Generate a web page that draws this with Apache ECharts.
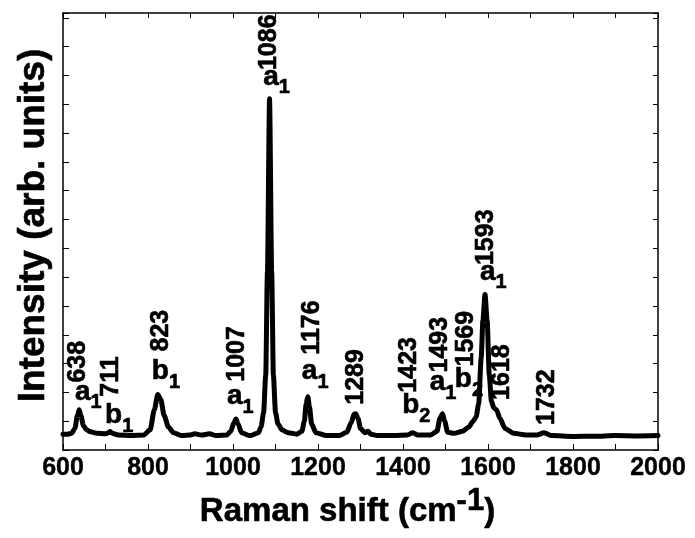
<!DOCTYPE html>
<html><head><meta charset="utf-8">
<script src="https://cdn.jsdelivr.net/npm/echarts@6/dist/echarts.min.js"></script>
<style>html,body{margin:0;padding:0;background:#fff}#c{width:695px;height:538px}</style>
</head><body><div id="c"></div>
<script>
// ---- data ----
const ramanShift = [600,610,620,628,634,638,642,648,655,665,680,700,707,711,716,730,760,790,805,815,823,830,838,848,860,880,900,910,925,945,960,985,995,1002,1007,1012,1020,1040,1060,1066,1072,1077,1081,1086,1091,1095,1100,1106,1115,1130,1150,1162,1168,1172,1176,1180,1185,1195,1220,1250,1268,1278,1285,1289,1294,1300,1310,1318,1324,1340,1380,1410,1423,1435,1465,1480,1487,1493,1498,1505,1520,1540,1555,1565,1572,1578,1584,1588,1593,1598,1603,1608,1614,1620,1628,1640,1660,1690,1715,1732,1750,1800,1850,1900,1950,2000];
const intensity  = [0.55,0.55,0.58,0.75,1.2,1.40,1.2,0.85,0.7,0.63,0.58,0.56,0.6,0.64,0.58,0.52,0.5,0.52,0.7,1.4,1.93,1.75,1.2,0.8,0.6,0.5,0.52,0.56,0.52,0.56,0.5,0.52,0.65,0.95,1.08,0.9,0.6,0.5,0.6,0.8,1.3,2.6,6.2,12.19,6.2,2.6,1.3,0.9,0.7,0.6,0.55,0.65,1.0,1.6,1.85,1.5,0.9,0.6,0.5,0.5,0.62,0.95,1.25,1.26,1.1,0.75,0.6,0.65,0.55,0.5,0.5,0.52,0.6,0.52,0.52,0.65,1.1,1.26,1.0,0.62,0.58,0.65,0.8,1.0,1.15,1.6,3.2,4.5,5.4,4.5,2.6,1.7,1.45,1.4,1.1,0.75,0.58,0.52,0.52,0.6,0.5,0.47,0.48,0.5,0.49,0.5];
const peakLabels = ['638','711','823','1007','1086','1176','1289','1423','1493','1569','1593','1618','1732'];
const symLetters = ['a','b','b','a','a','a','b','a','b','a'];
const symSubs    = ['1','1','1','1','1','1','2','1','2','1'];
const xTickLabels = ['600','800','1000','1200','1400','1600','1800','2000'];
const xTitle = 'Raman shift (cm';
const xTitleSup = '-1';
const yTitle = 'Intensity (arb. units)';

// ---- layout (label anchors in axis units) ----
function buildOption(){
  const numAnchor = [[635,2.34],[713,1.85],[830,3.42],[1009,2.37],[1085,13.19],[1186,3.31],[1289,1.57],[1414,1.99],[1487,2.69],[1548,2.90],[1595,6.42],[1633,1.74],[1739,0.87]];
  const symAnchor = [[628,2.02],[699,1.19],[809,2.72],[986,1.85],[1071,12.95],[1162,2.72],[1398,1.54],[1463,2.34],[1522,2.44],[1581,6.18]];
  const FONT = '"Liberation Sans", Arial, sans-serif';
  const INK = {color:'#000',textBorderColor:'#000',textBorderWidth:0.6,opacity:1};
  const spectrum = ramanShift.map((x,i)=>[x,intensity[i]]);
  const numData = peakLabels.map((t,i)=>({name:t,value:numAnchor[i]}));
  const symData = symLetters.map((t,i)=>({name:'{m|'+t+'}{s|'+symSubs[i]+'}',value:symAnchor[i]}));
  const baseX = {type:'value',min:600,max:2000,gridIndex:0};
  const baseY = {type:'value',min:0,max:15.17,interval:1,gridIndex:0,splitLine:{show:false}};
  return {
    animation:false,
    backgroundColor:'#fff',
    grid:{left:63,right:37,top:13,bottom:88},
    xAxis:[
      Object.assign({},baseX,{position:'bottom',interval:200,
        axisLine:{onZero:false,lineStyle:{color:'#000',width:1.5}},
        axisTick:{inside:true,length:6,lineStyle:{color:'#000',width:1}},
        minorTick:{show:true,splitNumber:2,length:6,lineStyle:{color:'#000',width:1}},
        splitLine:{show:false},
        axisLabel:Object.assign({margin:6,fontSize:25,fontWeight:'bold',fontFamily:FONT,
          formatter:v=>xTickLabels.includes(String(v))?String(v):''},INK,{textBorderWidth:0.4}),
        name:'{t|'+xTitle+'}{p|'+xTitleSup+'}{t|)}',nameLocation:'middle',nameGap:20,
        nameTextStyle:{padding:[0,26,0,0],rich:{
          t:Object.assign({fontSize:33,fontWeight:'bold',fontFamily:FONT},INK),
          p:Object.assign({fontSize:31,fontWeight:'bold',fontFamily:FONT,padding:[0,0,20,0]},INK)}}}),
      Object.assign({},baseX,{position:'top',interval:100,
        axisLine:{onZero:false,lineStyle:{color:'#000',width:1.5}},
        axisTick:{inside:true,length:5,lineStyle:{color:'#000',width:1}},
        axisLabel:{show:false},splitLine:{show:false}})
    ],
    yAxis:[
      Object.assign({},baseY,{position:'left',
        axisLine:{show:true,onZero:false,lineStyle:{color:'#000',width:1.5}},
        axisTick:{show:true,inside:true,length:6,lineStyle:{color:'#000',width:1}},
        axisLabel:{show:false},
        name:yTitle,nameLocation:'middle',nameGap:11,
        nameTextStyle:Object.assign({fontSize:37,fontWeight:'bold',fontFamily:FONT,padding:[0,0,0,12]},INK)}),
      Object.assign({},baseY,{position:'right',
        axisLine:{show:true,onZero:false,lineStyle:{color:'#000',width:1.5}},
        axisTick:{show:true,inside:true,length:5,lineStyle:{color:'#000',width:1}},
        axisLabel:{show:false}})
    ],
    series:[
      {type:'line',data:spectrum,showSymbol:false,smooth:0.25,smoothMonotone:'x',silent:true,z:2,
       lineStyle:{color:'#000',width:5,join:'round',cap:'round'}},
      {type:'scatter',data:numData,symbolSize:0,silent:true,z:3,itemStyle:{opacity:1,color:'#000'},
       label:Object.assign({show:true,position:'inside',rotate:90,align:'left',verticalAlign:'middle',
         formatter:p=>p.name,fontSize:25,fontWeight:'bold',fontFamily:FONT},INK)},
      {type:'scatter',data:symData,symbolSize:0,silent:true,z:3,itemStyle:{opacity:1,color:'#000'},
       label:Object.assign({show:true,position:'inside',align:'left',verticalAlign:'middle',
         formatter:p=>p.name,
         rich:{m:Object.assign({fontSize:28,fontWeight:'bold',fontFamily:FONT},INK),
               s:Object.assign({fontSize:20,fontWeight:'bold',fontFamily:FONT,padding:[22,0,0,0]},INK)}},INK)}
    ]
  };
}
const chart = echarts.init(document.getElementById('c'),null,{renderer:'canvas'});
chart.setOption(buildOption());
</script></body></html>
